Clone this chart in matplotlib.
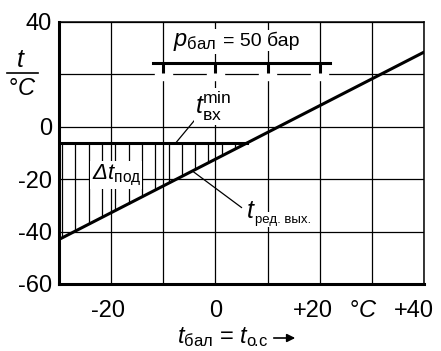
import matplotlib.pyplot as plt
import numpy as np

plt.rcParams['font.family'] = ['Liberation Sans', 'DejaVu Sans']
plt.rcParams['mathtext.fontset'] = 'custom'
plt.rcParams['mathtext.rm'] = 'Liberation Sans'
plt.rcParams['mathtext.it'] = 'Liberation Sans:italic'
plt.rcParams['mathtext.sf'] = 'Liberation Sans:italic'

# values (°C)
t_bal = [-30, 40]
t_red_vyh = [-43, 28.5]
t_vx_min = -6.2
p_x = [-12, 22]
p_level = 24.2
p_marks = [-10, 0, 10, 20]
x_ticks = [-20, 0, 20, 30, 40]
x_labels = ['-20', '0', '+20', r'°$\mathsf{C}$', '+40']
y_ticks = [-60, -40, -20, 0, 20, 40]
y_labels = ['-60', '-40', '-20', '0', '', '40']

fig = plt.figure(figsize=(4.41, 3.51), dpi=100)
ax = fig.add_axes([59/441, 1 - 284/351, 365/441, 262/351])
ax.set_xlim(-30, 40)
ax.set_ylim(-60, 40)
ax.set_xticks(np.arange(-30, 41, 10))
ax.set_yticks(y_ticks, y_labels, fontsize=17)
ax.tick_params(length=0, pad=5)
ax.tick_params(axis='x', labelbottom=False)
ax.grid(True, color='black', lw=0.9)
ax.set_axisbelow(True)
for s in ['left', 'bottom']:
    ax.spines[s].set_linewidth(2.2)
for s in ['top', 'right']:
    ax.spines[s].set_linewidth(1.1)

# x tick labels, nudged like in the original
x_shift = [-3, 0, -7, -9, -10]
for xt, lbl, dx in zip(x_ticks, x_labels, x_shift):
    ax.annotate(lbl, xy=(xt, 0), xycoords=ax.get_xaxis_transform(),
                xytext=(dx, -33), textcoords='offset pixels',
                ha='center', va='baseline', fontsize=17, annotation_clip=False)

# main line and t_vx_min level
x_cross = np.interp(t_vx_min, t_red_vyh, t_bal)
ax.plot(t_bal, t_red_vyh, color='black', lw=2.2, zorder=3)
ax.plot([t_bal[0], x_cross], [t_vx_min, t_vx_min], color='black', lw=2.2, zorder=3)

# vertical hatching of the subcooling area
hx = np.arange(-29.4, x_cross, 2.55)
hy = np.interp(hx, t_bal, t_red_vyh)
ax.vlines(hx, hy, t_vx_min, color='black', lw=0.9, zorder=2)

# p_бал marker line with white gaps in the 20° gridline
for m in p_marks:
    ax.add_patch(plt.Rectangle((m - 1.6, 17.7), 3.2, 2.7, color='white', zorder=1))
ax.plot(p_x, [p_level, p_level], color='black', lw=2.2, zorder=3)
ax.vlines(p_marks, 20.4, p_level, color='black', lw=2.2, zorder=3)

box = dict(facecolor='white', edgecolor='none', pad=1)
ax.text(-8.2, 30.9, r'$\mathsf{p}_{\mathrm{бал}}$', fontsize=17,
        va='baseline', bbox=box, zorder=4)
ax.annotate('= 50 бар', xy=(-8.2, 30.9), xytext=(50, 0), textcoords='offset pixels',
            fontsize=14, va='baseline', bbox=box, zorder=4)
ax.text(-3.9, 4.8, r'$\mathsf{t}_{\mathrm{вх}}^{\mathrm{min}}$', fontsize=18,
        va='baseline', bbox=box, zorder=4)
ax.text(-19, -18.5, r'$\mathsf{Δt}_{\mathrm{под}}$', fontsize=16,
        ha='center', va='center', bbox=box, zorder=4)
ax.text(6.1, -35, 't', fontsize=18, fontstyle='italic',
        va='baseline', bbox=box, zorder=4)
ax.annotate('ред. вых.', xy=(6.1, -35), xytext=(8, -4), textcoords='offset pixels',
            fontsize=9.5, va='baseline', bbox=box, zorder=4)

# leader lines
ax.plot([-7.5, -4.0], [-5.9, 2.5], color='black', lw=0.9, zorder=3)
ax.plot([-4.4, 5.0], [-16.9, -30.8], color='black', lw=0.9, zorder=3)

# y axis label as a fraction t / °C
fig.text(21/441, 1 - 67/351, r'$\mathsf{t}$', fontsize=18, ha='center', va='baseline')
fig.add_artist(plt.Line2D([7/441, 38/441], [1 - 73/351, 1 - 73/351], color='black', lw=1.2))
fig.text(22/441, 1 - 95/351, r'°$\mathsf{C}$', fontsize=17, ha='center', va='baseline')

# x axis label with arrow
fig.text(177/441, 1 - 343/351,
         r'$\mathsf{t}_{\mathrm{бал}}$ = $\mathsf{t}_{\mathrm{о}\!.\!\mathrm{с}}$',
         fontsize=17, va='baseline')
fig.add_artist(plt.Line2D([274/441, 290/441], [1 - 338/351, 1 - 338/351], color='black', lw=1.2))
ax.annotate('', xy=(298/441, 1 - 338/351), xytext=(285/441, 1 - 338/351),
            xycoords='figure fraction', textcoords='figure fraction',
            arrowprops=dict(arrowstyle='-|>', color='black', lw=1.2, mutation_scale=12))

fig.savefig('out.png', dpi=100)
